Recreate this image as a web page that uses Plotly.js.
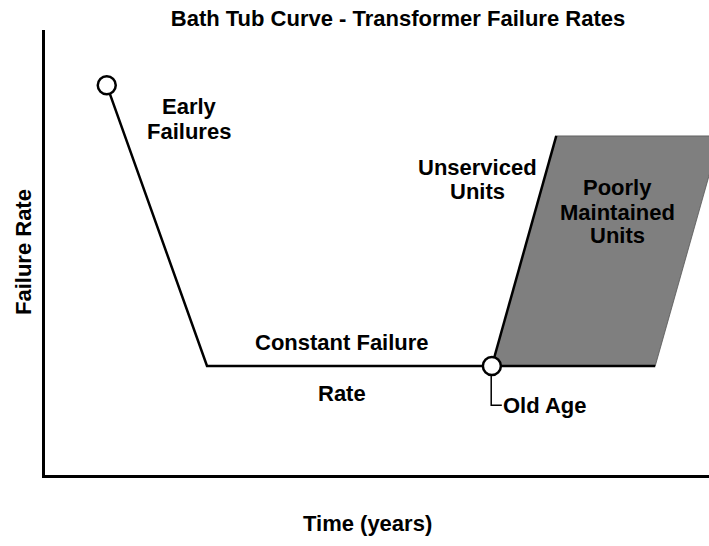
<!DOCTYPE html>
<html>
<head>
<meta charset="utf-8">
<script src="https://cdn.plot.ly/plotly-3.0.1.min.js"></script>
<style>
html,body{margin:0;padding:0;background:#fff;}
#chart{width:709px;height:546px;}
</style>
</head>
<body>
<div id="chart"></div>
<script>
// Bath tub curve (arbitrary units: time 0-100, failure rate 0-100)
var curveTime = [9.3, 24.4, 67.3, 91.9];
var curveRate = [87.6, 24.5, 24.5, 24.5];

var unservicedTime = [67.3, 77.0];
var unservicedRate = [24.5, 76.2];

var poorTime = [67.3, 77.0, 101.7, 91.9, 67.3];
var poorRate = [24.5, 76.2, 76.2, 24.5, 24.5];

var markerTime = [9.3, 67.3];
var markerRate = [87.6, 24.5];

var leaderTime = [67.2, 67.2, 68.8];
var leaderRate = [22.4, 15.7, 15.7];

var labelTexts = ["Early", "Failures", "Unserviced", "Units", "Poorly", "Maintained", "Units", "Constant Failure", "Rate"];
var labelTime = [21.7, 21.7, 65.2, 65.2, 86.2, 86.2, 86.2, 44.8, 44.8];
var labelRate = [82.7, 77.1, 69.2, 63.8, 64.7, 59.1, 53.9, 29.7, 18.4];

var oldAgeText = "Old Age";
var oldAgeTime = 68.7;
var oldAgeRate = 15.7;

var FONT = "Liberation Sans, Arial, Helvetica, sans-serif";
var black = "#000000";

var traces = [
  {x: poorTime, y: poorRate, type: "scatter", mode: "lines", fill: "toself",
   fillcolor: "#7f7f7f", line: {width: 0.8, color: "#555555"}, hoverinfo: "skip", showlegend: false},
  {x: curveTime, y: curveRate, type: "scatter", mode: "lines",
   line: {width: 2.5, color: black}, showlegend: false},
  {x: unservicedTime, y: unservicedRate, type: "scatter", mode: "lines",
   line: {width: 2.5, color: black}, showlegend: false},
  {x: leaderTime, y: leaderRate, type: "scatter", mode: "lines",
   line: {width: 1.5, color: black}, showlegend: false},
  {x: markerTime, y: markerRate, type: "scatter", mode: "markers",
   marker: {size: 18, color: "#ffffff", line: {width: 2.5, color: black}}, showlegend: false}
];

var annotations = [];
for (var i = 0; i < labelTexts.length; i++) {
  annotations.push({x: labelTime[i], y: labelRate[i], xref: "x", yref: "y",
    text: "<b>" + labelTexts[i] + "</b>", showarrow: false, xanchor: "center", yanchor: "middle",
    font: {family: FONT, size: 22, color: black}});
}
annotations.push({x: oldAgeTime, y: oldAgeRate, xref: "x", yref: "y",
  text: "<b>" + oldAgeText + "</b>", showarrow: false, xanchor: "left", yanchor: "middle",
  font: {family: FONT, size: 22, color: black}});
annotations.push({x: (367.5 - 45) / 664, y: (475 - 523) / 445, xref: "paper", yref: "paper",
  text: "<b>Time (years)</b>", showarrow: false, xanchor: "center", yanchor: "middle",
  font: {family: FONT, size: 22, color: black}});
annotations.push({x: (24 - 45) / 664, y: (475 - 252) / 445, xref: "paper", yref: "paper",
  text: "<b>Failure Rate</b>", showarrow: false, textangle: -90, xanchor: "center", yanchor: "middle",
  font: {family: FONT, size: 22, color: black}});

var layout = {
  width: 709, height: 546,
  margin: {l: 45, r: 0, t: 30, b: 71, pad: 0},
  paper_bgcolor: "#ffffff", plot_bgcolor: "#ffffff",
  title: {text: "<b>Bath Tub Curve - Transformer Failure Rates</b>",
    x: 398 / 709, xref: "container", xanchor: "center",
    y: 1 - 18 / 546, yref: "container", yanchor: "middle",
    font: {family: FONT, size: 22, color: black}},
  xaxis: {range: [0, 100], showline: true, linewidth: 3, linecolor: black, mirror: false,
    showgrid: false, zeroline: false, showticklabels: false, ticks: "", fixedrange: true},
  yaxis: {range: [0, 100], showline: true, linewidth: 3, linecolor: black, mirror: false,
    showgrid: false, zeroline: false, showticklabels: false, ticks: "", fixedrange: true},
  annotations: annotations,
  showlegend: false
};

Plotly.newPlot("chart", traces, layout, {displayModeBar: false, staticPlot: true});
</script>
</body>
</html>
